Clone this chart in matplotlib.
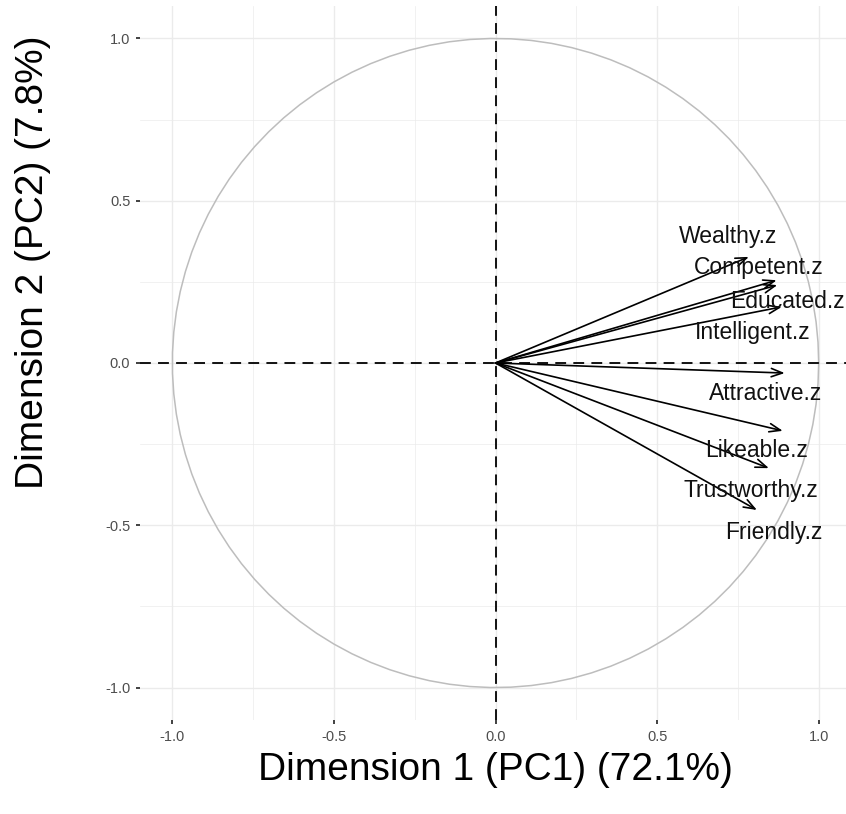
import numpy as np
import matplotlib.pyplot as plt

# variable loadings on PC1 / PC2
variables = ['Wealthy.z', 'Competent.z', 'Educated.z', 'Intelligent.z',
             'Attractive.z', 'Likeable.z', 'Trustworthy.z', 'Friendly.z']
pc1 = [0.784, 0.870, 0.872, 0.886, 0.895, 0.889, 0.846, 0.809]
pc2 = [0.327, 0.255, 0.240, 0.173, -0.031, -0.209, -0.324, -0.453]

x_label = 'Dimension 1 (PC1) (72.1%)'
y_label = 'Dimension 2 (PC2) (7.8%)'
ticks = [-1.0, -0.5, 0.0, 0.5, 1.0]
tick_labels = ['-1.0', '-0.5', '0.0', '0.5', '1.0']

# label offsets from arrow tips (data units), roughly as the repelled labels sit
label_dx = [-0.065, -0.055, 0.030, -0.090, -0.060, -0.080, -0.055, 0.053]
label_dy = [0.062, 0.040, -0.052, -0.078, -0.062, -0.062, -0.068, -0.068]

plt.rcParams['font.family'] = ['Liberation Sans', 'DejaVu Sans']

fig = plt.figure(figsize=(8.46, 8.14), dpi=100)
ax = fig.add_axes([140 / 846, 94 / 814, 711 / 846, 714 / 814])

ax.set_xlim(-1.1, 1.1)
ax.set_ylim(-1.1, 1.1)

# grid like theme_minimal
for v in np.arange(-1.0, 1.01, 0.25):
    major = abs(v * 2 - round(v * 2)) < 1e-9
    lw = 1.0 if major else 0.5
    ax.axvline(v, color='#EBEBEB', lw=lw, zorder=0)
    ax.axhline(v, color='#EBEBEB', lw=lw, zorder=0)

# correlation circle
t = np.linspace(0, 2 * np.pi, 100)
ax.plot(np.cos(t), np.sin(t), color='#BDBDBD', lw=1.1, zorder=1)

ax.axhline(0, color='black', lw=1.3, ls=(0, (6, 4)), zorder=2)
ax.axvline(0, color='black', lw=1.3, ls=(0, (6, 4)), zorder=2)

for name, x, y, dx, dy in zip(variables, pc1, pc2, label_dx, label_dy):
    ax.annotate('', xy=(x, y), xytext=(0, 0),
                arrowprops=dict(arrowstyle='->,head_length=0.8,head_width=0.3',
                                color='black', lw=1.2, shrinkA=0, shrinkB=0),
                zorder=3)
    ax.text(x + dx, y + dy, name, fontsize=16.5, ha='center', va='center',
            color='#111111', zorder=4)

ax.set_xticks(ticks)
ax.set_xticklabels(tick_labels)
ax.set_yticks(ticks)
ax.set_yticklabels(tick_labels)
ax.tick_params(axis='both', length=3, width=1.3, color='#333333',
               labelcolor='#4D4D4D', labelsize=10.5, pad=4)
for s in ax.spines.values():
    s.set_visible(False)

fig.text(495 / 846, 1 - 770 / 814, x_label, fontsize=28, ha='center', va='center')
fig.text(33 / 846, 1 - 262 / 814, y_label, fontsize=28, ha='center', va='center',
         rotation=90)

fig.savefig('out.png', dpi=100)
